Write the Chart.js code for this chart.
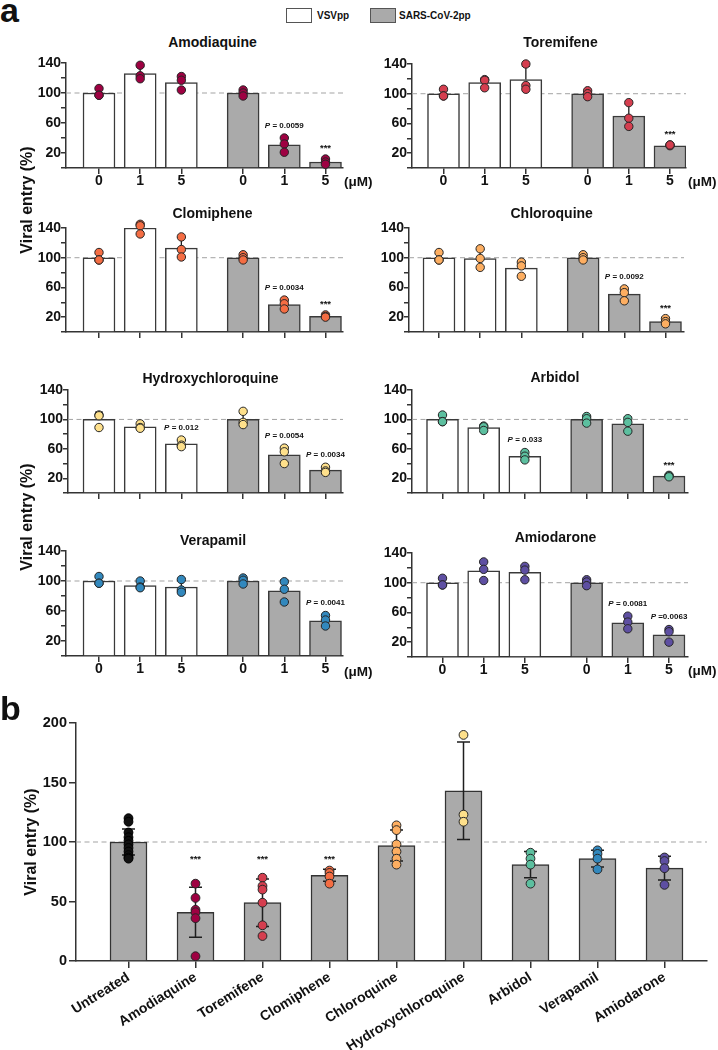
<!DOCTYPE html>
<html><head><meta charset="utf-8">
<script src="https://cdn.jsdelivr.net/npm/chart.js@4.4.1/dist/chart.umd.min.js"></script>
<style>
html,body{margin:0;padding:0;background:#fff;}
#fig{position:relative;width:718px;height:1050px;overflow:hidden;background:#fff;}
#fig canvas{position:absolute;}
.t{position:absolute;font-family:'Liberation Sans',Arial,Helvetica,sans-serif;font-weight:bold;line-height:1;white-space:nowrap;color:#111;}
.box{position:absolute;border:1px solid #555;box-sizing:border-box;}
</style></head><body><div id="fig"></div>
<script>
const FONT = "'Liberation Sans', Arial, Helvetica, sans-serif";

// ---------- labels ----------
const doseLabels = ['0', '1', '5', '0', '1', '5'];
const doseUnit = '(μM)';
const yTickLabels = [20, 60, 100, 140];
const bYTickLabels = [0, 50, 100, 150, 200];
const legendLabels = ['VSVpp', 'SARS-CoV-2pp'];
const yTitle = 'Viral entry (%)';
const drugs = ['Amodiaquine', 'Toremifene', 'Clomiphene', 'Chloroquine', 'Hydroxychloroquine', 'Arbidol', 'Verapamil', 'Amiodarone'];
const drugColors = ['#9e0142', '#d53e4f', '#f46d43', '#fdae61', '#fee08b', '#5cbf9f', '#3288bd', '#5e4fa2'];

// ---------- panel a data (VSVpp 0,1,5 | SARS-CoV-2pp 0,1,5) ----------
const amodiaquineMean = [100, 126, 114, 100, 31, 8];
const amodiaquineSD   = [5, 9, 9, 4, 10, 4];
const amodiaquinePts  = [[106, 97, 97], [137, 123, 119], [122, 117, 104], [104, 100, 96], [40, 32, 21], [12, 8, 5]];
const amodiaquineSig  = [[4, 'P = 0.0059'], [5, '***']];

const toremifeneMean = [100, 115, 119, 100, 70, 30];
const toremifeneSD   = [5, 6, 18, 4, 16, 1];
const toremifenePts  = [[106, 97, 97], [119, 118, 108], [140, 111, 106], [104, 100, 96], [88, 67, 56], [31, 30, 31]];
const toremifeneSig  = [[5, '***']];

const clomipheneMean = [100, 140, 113, 100, 37, 21];
const clomipheneSD   = [6, 7, 14, 4, 6, 2];
const clomiphenePts  = [[107, 97, 97], [145, 143, 132], [128, 111, 101], [104, 100, 97], [43, 38, 31], [23, 21, 20]];
const clomipheneSig  = [[4, 'P = 0.0034'], [5, '***']];

const chloroquineMean = [100, 99, 86, 100, 51, 14];
const chloroquineSD   = [6, 12, 10, 4, 8, 4];
const chloroquinePts  = [[107, 97, 97], [112, 99, 87], [94, 89, 75], [104, 100, 97], [58, 53, 42], [18, 14, 11]];
const chloroquineSig  = [[4, 'P = 0.0092'], [5, '***']];

const hydroxychloroquineMean = [100, 90, 67, 100, 52, 31];
const hydroxychloroquineSD   = [10, 3, 5, 10, 11, 4];
const hydroxychloroquinePts  = [[106, 105, 89], [94, 89, 88], [72, 65, 63], [111, 96, 93], [61, 56, 40], [35, 30, 28]];
const hydroxychloroquineSig  = [[2, 'P = 0.012'], [4, 'P = 0.0054'], [5, 'P = 0.0034']];

const arbidolMean = [100, 89, 50, 100, 94, 23];
const arbidolSD   = [5, 3, 5, 5, 9, 1];
const arbidolPts  = [[106, 97, 97], [91, 90, 85], [55, 50, 45], [104, 101, 95], [101, 96, 84], [24, 23, 22]];
const arbidolSig  = [[2, 'P = 0.033'], [5, '***']];

const verapamilMean = [100, 94, 92, 100, 87, 47];
const verapamilSD   = [5, 5, 9, 4, 14, 7];
const verapamilPts  = [[106, 97, 97], [100, 92, 91], [102, 88, 85], [104, 101, 96], [99, 89, 72], [54, 48, 40]];
const verapamilSig  = [[5, 'P = 0.0041']];

const amiodaroneMean = [100, 116, 114, 100, 46, 30];
const amiodaroneSD   = [5, 13, 9, 4, 9, 9];
const amiodaronePts  = [[106, 97, 97], [128, 118, 103], [122, 117, 104], [104, 101, 96], [55, 47, 38], [37, 34, 20]];
const amiodaroneSig  = [[4, 'P = 0.0081'], [5, 'P =0.0063']];

const drugMeans = [amodiaquineMean, toremifeneMean, clomipheneMean, chloroquineMean, hydroxychloroquineMean, arbidolMean, verapamilMean, amiodaroneMean];
const drugSDs = [amodiaquineSD, toremifeneSD, clomipheneSD, chloroquineSD, hydroxychloroquineSD, arbidolSD, verapamilSD, amiodaroneSD];
const drugPts = [amodiaquinePts, toremifenePts, clomiphenePts, chloroquinePts, hydroxychloroquinePts, arbidolPts, verapamilPts, amiodaronePts];
const drugSig = [amodiaquineSig, toremifeneSig, clomipheneSig, chloroquineSig, hydroxychloroquineSig, arbidolSig, verapamilSig, amiodaroneSig];

// ---------- panel b data ----------
const bCategories = ['Untreated', 'Amodiaquine', 'Toremifene', 'Clomiphene', 'Chloroquine', 'Hydroxychloroquine', 'Arbidol', 'Verapamil', 'Amiodarone'];
const bMean = [100, 41, 49, 72, 97, 143, 81, 86, 78];
const bSD   = [11, 21, 20, 5, 13, 41, 11, 7, 10];
const bPts  = [
  [120, 117, 108, 104, 101, 98, 95, 92, 89, 87, 86],
  [65, 53, 43, 41, 36, 4],
  [70, 63, 60, 49, 30, 21],
  [76, 74, 71, 65],
  [114, 110, 98, 92, 86, 81],
  [190, 123, 117],
  [91, 86, 81, 65],
  [93, 90, 86, 77],
  [87, 84, 78, 64]
];
const bColors = ['#111111', ...drugColors];
const bSig = [[1, '***'], [2, '***'], [3, '***']];
const bSigLevel = 88;

// ---------- layout (pixels) ----------
const fig = document.getElementById('fig');
const STEP_A = 41.18;
const aGeom = [
  {L: 66,  R: 343, T: 63,  B: 168, x0: 99,    tx: 212.5, ty: 42,  xl: true,  ux: 344, uy: 182},
  {L: 412, R: 686, T: 64,  B: 168, x0: 443.5, tx: 560.5, ty: 42,  xl: true,  ux: 688, uy: 182},
  {L: 66,  R: 343, T: 228, B: 332, x0: 99,    tx: 212.5, ty: 213, xl: false},
  {L: 409, R: 684, T: 228, B: 332, x0: 439,   tx: 551.7, ty: 213, xl: false},
  {L: 68,  R: 343, T: 390, B: 493, x0: 99,    tx: 210.5, ty: 378, xl: false},
  {L: 412, R: 688, T: 390, B: 493, x0: 442.5, tx: 555,   ty: 377, xl: false},
  {L: 66,  R: 343, T: 551, B: 656, x0: 99,    tx: 213,   ty: 540, xl: true,  ux: 344, uy: 671.5},
  {L: 412, R: 688, T: 553, B: 657, x0: 442.5, tx: 555.5, ty: 537, xl: true,  ux: 688, uy: 670.5}
];

function addText(txt, x, yc, size, align, extra) {
  const d = document.createElement('div');
  d.className = 't';
  d.textContent = txt;
  d.style.fontSize = size + 'px';
  d.style.left = x + 'px';
  d.style.top = (yc - 0.4885 * size) + 'px';
  if (align === 'center') d.style.transform = 'translateX(-50%)';
  if (extra) Object.assign(d.style, extra);
  fig.appendChild(d);
  return d;
}
function addVText(txt, cx, cy, size) {
  const d = document.createElement('div');
  d.className = 't';
  d.textContent = txt;
  d.style.fontSize = size + 'px';
  d.style.left = cx + 'px';
  d.style.top = cy + 'px';
  d.style.transform = 'translate(-50%,-50%) rotate(-90deg)';
  fig.appendChild(d);
}

function drawSig(ctx, text, x, yc) {
  ctx.save();
  ctx.fillStyle = '#111';
  ctx.textBaseline = 'alphabetic';
  ctx.textAlign = 'left';
  if (text.startsWith('P')) {
    const s = 8;
    ctx.font = `italic bold ${s}px ${FONT}`;
    const w1 = ctx.measureText('P').width;
    ctx.font = `bold ${s}px ${FONT}`;
    const rest = text.slice(1);
    const w2 = ctx.measureText(rest).width;
    const x0 = x - (w1 + w2) / 2, base = yc + 0.358 * s;
    ctx.font = `italic bold ${s}px ${FONT}`;
    ctx.fillText('P', x0, base);
    ctx.font = `bold ${s}px ${FONT}`;
    ctx.fillText(rest, x0 + w1, base);
  } else {
    const s = 9.5;
    ctx.font = `bold ${s}px ${FONT}`;
    const w = ctx.measureText(text).width;
    ctx.fillText(text, x - w / 2, yc + 0.57 * s);
  }
  ctx.restore();
}

function errPlugin(twoSided, capHalf, lw) {
  return {
    id: 'errbars',
    afterDatasetDraw(chart, args) {
      const ds = chart.data.datasets[args.index];
      if (!ds.errors) return;
      const ys = chart.scales.y, ctx = chart.ctx;
      ctx.save();
      ctx.strokeStyle = '#1e1e1e';
      ctx.lineWidth = lw;
      args.meta.data.forEach((el, i) => {
        const m = ds.data[i].y, e = ds.errors[i];
        const yt = ys.getPixelForValue(m + e);
        const yb = ys.getPixelForValue(twoSided ? m - e : m);
        ctx.beginPath();
        ctx.moveTo(el.x, yb); ctx.lineTo(el.x, yt);
        ctx.moveTo(el.x - capHalf, yt); ctx.lineTo(el.x + capHalf, yt);
        if (twoSided) { ctx.moveTo(el.x - capHalf, yb); ctx.lineTo(el.x + capHalf, yb); }
        ctx.stroke();
      });
      ctx.restore();
    }
  };
}

function sigPlugin(items) {
  return {
    id: 'sig',
    afterDatasetsDraw(chart) {
      items.forEach(a => {
        const x = chart.scales.x.getPixelForValue(a.x);
        const y = chart.scales.y.getPixelForValue(a.y) - a.dy;
        drawSig(chart.ctx, a.text, x, y);
      });
    }
  };
}

const tickFont = {family: FONT, size: 14, weight: 'bold'};

function makeCanvas(left, top, w, h) {
  const cv = document.createElement('canvas');
  cv.width = w; cv.height = h;
  cv.style.left = left + 'px'; cv.style.top = top + 'px';
  cv.style.width = w + 'px'; cv.style.height = h + 'px';
  fig.appendChild(cv);
  return cv;
}

function stepTicks(min, max, step) {
  const t = [];
  for (let v = min; v <= max + 1e-9; v += step) t.push({value: v});
  return t;
}

// ---------- panel a charts ----------
function makeSmall(k) {
  const g = aGeom[k];
  const YW = 50, PT = 12, PR = 10, XH = 26;
  const w = YW + (g.R - g.L) + PR, h = PT + (g.B - g.T) + XH;
  const cv = makeCanvas(g.L - YW, g.T - PT, w, h);
  const pos = doseLabels.map((_, i) => i + (i >= 3 ? 0.5 : 0));
  const xmin = -(g.x0 - g.L) / STEP_A, xmax = xmin + (g.R - g.L) / STEP_A;
  const mean = drugMeans[k], sd = drugSDs[k], pts = drugPts[k];
  const sigItems = drugSig[k].map(([i, text]) => ({x: pos[i], y: Math.max(...pts[i]), dy: 13, text}));
  const barStyle = {borderColor: '#3a3a3a', borderWidth: 1.5, barThickness: 32, grouped: false, order: 5};
  new Chart(cv, {
    type: 'bar',
    data: {datasets: [
      {type: 'line', data: [{x: xmin, y: 100}, {x: xmax, y: 100}], borderColor: '#a3a3a3', borderWidth: 1, borderDash: [5, 3.5], pointRadius: 0, order: 10},
      Object.assign({type: 'bar', label: legendLabels[0], data: pos.slice(0, 3).map((x, i) => ({x, y: mean[i]})), errors: sd.slice(0, 3), backgroundColor: '#ffffff'}, barStyle),
      Object.assign({type: 'bar', label: legendLabels[1], data: pos.slice(3).map((x, i) => ({x, y: mean[i + 3]})), errors: sd.slice(3), backgroundColor: '#aaaaaa'}, barStyle),
      {type: 'scatter', data: pts.flatMap((grp, i) => grp.map(v => ({x: pos[i], y: v}))), pointRadius: 4.2, backgroundColor: drugColors[k], borderColor: '#262626', borderWidth: 1, clip: false, order: 1}
    ]},
    options: {
      responsive: false, animation: false, devicePixelRatio: 1, events: [],
      layout: {padding: {top: PT, right: PR, left: 0, bottom: 0}},
      plugins: {legend: {display: false}, tooltip: {enabled: false}, title: {display: false}},
      scales: {
        x: {
          type: 'linear', min: xmin, max: xmax, offset: false, bounds: 'data',
          afterBuildTicks: s => { s.ticks = pos.map(v => ({value: v})); },
          afterFit: s => { s.height = XH; },
          grid: {display: true, drawOnChartArea: false, drawTicks: true, tickLength: 6, color: '#333', tickColor: '#333', lineWidth: 1.5, offset: false},
          border: {display: true, color: '#333', width: 1.5},
          ticks: {autoSkip: false, maxRotation: 0, minRotation: 0, padding: -1, color: '#111', font: tickFont,
                  callback: (v, i) => g.xl ? doseLabels[i] : ''}
        },
        y: {
          type: 'linear', min: 0, max: 140,
          afterBuildTicks: s => { s.ticks = stepTicks(0, 140, 20); },
          afterFit: s => { s.width = YW; },
          grid: {display: true, drawOnChartArea: false, drawTicks: true, tickLength: 5, color: '#333', tickColor: '#333', lineWidth: 1.5},
          border: {display: true, color: '#333', width: 1.5},
          ticks: {autoSkip: false, padding: 0, color: '#111', font: tickFont,
                  callback: v => yTickLabels.includes(Math.round(v)) ? String(Math.round(v)) : ''}
        }
      }
    },
    plugins: [errPlugin(false, 4, 1.3), sigPlugin(sigItems)]
  });
  addText(drugs[k], g.tx, g.ty, 14, 'center');
  if (g.xl) addText(doseUnit, g.ux, g.uy, 13.5);
}
for (let k = 0; k < 8; k++) makeSmall(k);

// ---------- panel b chart ----------
(function () {
  const g = {L: 76, R: 707, T: 723, B: 961, x0: 128.5, step: 67};
  const top = 700, W = 718, H = 350;
  const YW = g.L, PT = g.T - top, PR = W - g.R, XH = H - PT - (g.B - g.T);
  const cv = makeCanvas(0, top, W, H);
  const pos = bCategories.map((_, i) => i);
  const xmin = -(g.x0 - g.L) / g.step, xmax = xmin + (g.R - g.L) / g.step;
  const pointData = [], pointColors = [], pointBorders = [];
  bPts.forEach((grp, i) => grp.forEach(v => {
    pointData.push({x: pos[i], y: v});
    pointColors.push(bColors[i]);
    pointBorders.push(i === 0 ? '#000' : '#262626');
  }));
  const sigItems = bSig.map(([i, text]) => ({x: pos[i], y: bSigLevel, dy: 0, text}));
  new Chart(cv, {
    type: 'bar',
    data: {datasets: [
      {type: 'line', data: [{x: xmin, y: 100}, {x: xmax, y: 100}], borderColor: '#a3a3a3', borderWidth: 1, borderDash: [5, 3.5], pointRadius: 0, order: 10},
      {type: 'bar', label: legendLabels[1], data: pos.map((x, i) => ({x, y: bMean[i]})), errors: bSD, backgroundColor: '#aaaaaa', borderColor: '#333', borderWidth: 1.5, barThickness: 37, grouped: false, order: 5},
      {type: 'scatter', data: pointData, pointRadius: 4.4, backgroundColor: pointColors, borderColor: pointBorders, borderWidth: 1, clip: false, order: 1}
    ]},
    options: {
      responsive: false, animation: false, devicePixelRatio: 1, events: [],
      layout: {padding: {top: PT, right: PR, left: 0, bottom: 0}},
      plugins: {legend: {display: false}, tooltip: {enabled: false}, title: {display: false}},
      scales: {
        x: {
          type: 'linear', min: xmin, max: xmax, offset: false, bounds: 'data',
          afterBuildTicks: s => { s.ticks = pos.map(v => ({value: v})); },
          afterFit: s => { s.height = XH; },
          grid: {display: true, drawOnChartArea: false, drawTicks: true, tickLength: 7, color: '#333', tickColor: '#333', lineWidth: 1.5, offset: false},
          border: {display: true, color: '#333', width: 1.5},
          ticks: {autoSkip: false, maxRotation: 32, minRotation: 32, padding: 1, color: '#111', font: tickFont,
                  callback: (v, i) => bCategories[i]}
        },
        y: {
          type: 'linear', min: 0, max: 200,
          afterBuildTicks: s => { s.ticks = bYTickLabels.map(v => ({value: v})); },
          afterFit: s => { s.width = YW; },
          grid: {display: true, drawOnChartArea: false, drawTicks: true, tickLength: 7, color: '#333', tickColor: '#333', lineWidth: 1.5},
          border: {display: true, color: '#333', width: 1.5},
          ticks: {autoSkip: false, padding: 2, color: '#111', font: {family: FONT, size: 14.5, weight: 'bold'},
                  callback: v => String(Math.round(v))}
        }
      }
    },
    plugins: [errPlugin(true, 6.5, 1.5), sigPlugin(sigItems)]
  });
})();

// ---------- static text: panel letters, legend, axis titles ----------
addText('a', 0, 11, 34, null, {top: '-7px'});
addText('b', 0, 0, 34, null, {top: '691px'});
[['#ffffff', 286, 317], ['#aaaaaa', 370, 399]].forEach(([bg, bx, tx], i) => {
  const b = document.createElement('div');
  b.className = 'box';
  Object.assign(b.style, {left: bx + 'px', top: '8px', width: '26px', height: '15px', background: bg});
  fig.appendChild(b);
  addText(legendLabels[i], tx, 16, 10);
});
addVText(yTitle, 27, 200, 16);
addVText(yTitle, 27, 517, 16);
addVText(yTitle, 31, 842, 16);
</script></body></html>
